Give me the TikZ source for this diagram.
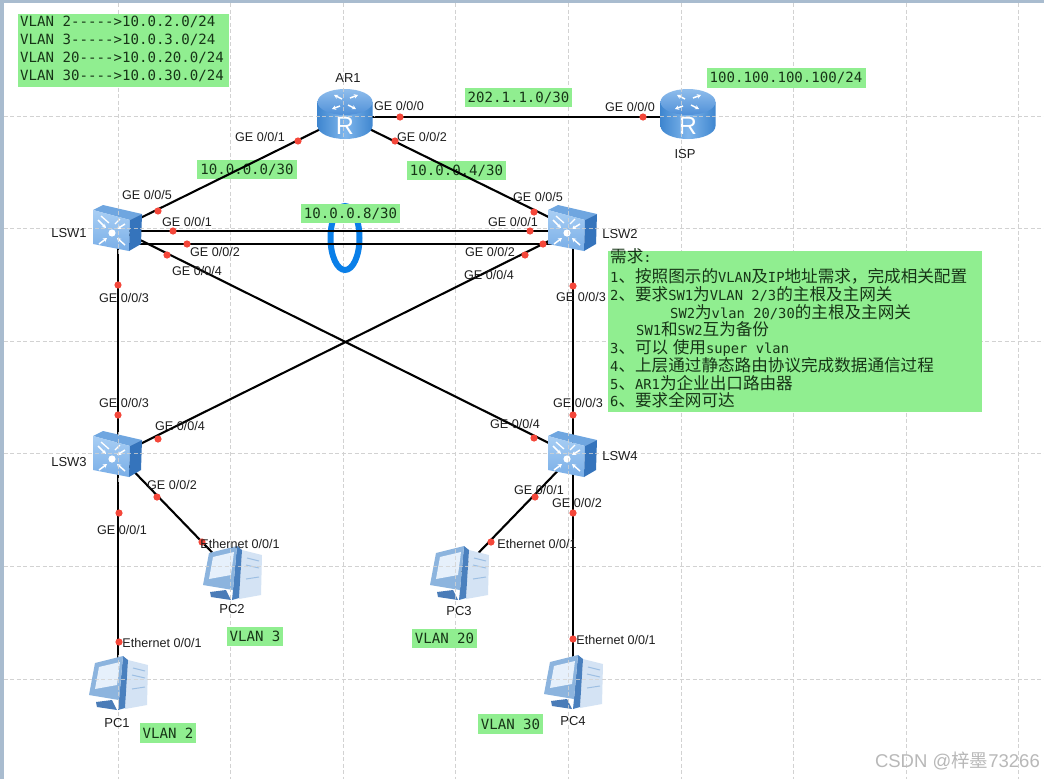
\documentclass[tikz,border=0pt]{standalone}
\usepackage{fontspec}
\setmainfont{Liberation Sans}
\newfontfamily\monof{DejaVu Sans Mono}
\newfontfamily\cjk{Noto Sans CJK SC}
\usetikzlibrary{arrows.meta}
\definecolor{gbox}{HTML}{90EE90}
\definecolor{gtxt}{HTML}{173517}
\definecolor{gridc}{HTML}{D2D2D2}
\definecolor{bezel}{HTML}{A9BCCF}
\definecolor{dotc}{HTML}{F4473A}
\definecolor{loopc}{HTML}{0A7FE8}
\definecolor{labc}{HTML}{1E1E1E}
\definecolor{rbodye}{HTML}{3F86CF}
\definecolor{rbodym}{HTML}{7FB6EC}
\definecolor{rtopa}{HTML}{8FBDEC}
\definecolor{rtopb}{HTML}{4F90D8}
\definecolor{stop}{HTML}{6FA6E0}
\definecolor{sfronta}{HTML}{A8CEF4}
\definecolor{sfrontb}{HTML}{79AEE7}
\definecolor{sright}{HTML}{3574BC}
\definecolor{pcframe}{HTML}{8CB4DE}
\definecolor{pcside}{HTML}{4A80BE}
\definecolor{pctower}{HTML}{D4E3F4}
\definecolor{pcbase}{HTML}{4A7CB8}
\definecolor{pcscreen}{HTML}{E6F0FB}
\definecolor{pcbar}{HTML}{9DBFE3}
\newcommand{\C}[1]{{\fontsize{16.6}{18}\cjk #1}}
\tikzset{
  x=1pt,y=-1pt,
  gridl/.style={gridc,line width=0.9pt,dash pattern=on 4pt off 2.5pt},
  link/.style={black,line width=2.1pt},
  dev/.style={inner sep=0pt,minimum size=0pt},
  gb/.style={fill=gbox,inner sep=0pt,text=gtxt,font=\monof\fontsize{14.1}{16}\selectfont},
  portdot/.style={circle,fill=dotc,inner sep=0pt,minimum size=7.2pt},
  portlab/.style={inner sep=0pt,text=labc,font=\fontsize{12.6}{14}\selectfont},
  devlab/.style={inner sep=0pt,text=labc,font=\fontsize{13}{15}\selectfont},
  reqline/.style={anchor=base west,inner sep=0pt,text=gtxt,font=\monof\fontsize{13.8}{16}\selectfont},
  wa/.style={white,line width=1.5pt,-{Stealth[length=4pt,width=4.5pt]}},
  routericon/.pic={
    \path[left color=rbodye,right color=rbodye,middle color=rbodym]
      (-27.5,-15) -- (-27.5,9) arc[start angle=180,end angle=0,x radius=27.5,y radius=13] -- (27.5,-15) -- cycle;
    \path[top color=rtopa,bottom color=rtopb] (0,-15) ellipse[x radius=27.5,y radius=13];
    \draw[wa] (-3,-18) -- (-11,-22);
    \draw[wa] (3,-12) -- (11,-8);
    \draw[wa] (5,-19) -- (13,-22);
    \draw[wa] (-5,-11) -- (-13,-8);
    \node[inner sep=0pt,text=white,font=\fontsize{25}{25}\selectfont] (-R) at (0,9) {R};
  },
  switchicon/.pic={
    \fill[stop] (-25,-19) -- (-15,-24) -- (24,-15) -- (12,-9) -- cycle;
    \path[top color=sfronta,bottom color=sfrontb] (-25,-19) -- (12,-9) -- (11,22) -- (-25,15) -- cycle;
    \fill[sright] (12,-9) -- (24,-15) -- (23,15) -- (11,22) -- cycle;
    \fill[white] (-6,4) circle[radius=3.6];
    \draw[wa] (-20,-9) -- (-12,-1);
    \draw[wa] (7,-5) -- (-1,0);
    \draw[wa] (-19,15) -- (-11,9);
    \draw[wa] (7,16) -- (-1,9);
    \draw[white,line width=1.3pt] (-17,-13) -- (-9,-6);
    \draw[white,line width=1.3pt] (2,-10) -- (-3,-5);
  },
  pcicon/.pic={
    \fill[pctower] (10,-23) -- (30,-18) -- (29,22) -- (7,26) -- cycle;
    \fill[pcside] (5,-27) -- (10,-23) -- (7,25) -- (0,27) -- (1,17) -- cycle;
    \fill[pcbase] (-22,19) -- (-6,17) -- (-1,27) -- (-21,24) -- cycle;
    \fill[pcframe] (-29,12) -- (-23,-20) -- (5,-27) -- (1,17) -- cycle;
    \fill[pcscreen] (-23,6) -- (-19,-16) -- (2,-21) -- (-1,2) -- cycle;
    \draw[pcbar,line width=1pt] (15,-15) -- (27,-12) (14,-8) -- (27,-5) (14,6) -- (27,4);
  },
}
\begin{document}
\begin{tikzpicture}
\useasboundingbox (0,0) rectangle (1044,779);
\fill[white] (0,0) rectangle (1044,779);
\fill[bezel] (0,0) rectangle (1044,3);
\fill[bezel] (0,0) rectangle (3.5,779);
% grid
\foreach \gx in {118,230.6,343.2,455.8,568.4,681,793.6,906.2,1018.8} \draw[gridl] (\gx,3) -- (\gx,779);
\foreach \gy in {116,228.6,341.2,453.8,566.4,679} \draw[gridl] (3.5,\gy) -- (1044,\gy);
% trunk loop
\draw[loopc,line width=6pt] (345,238) ellipse[x radius=14.5,y radius=32];
% device anchors
\node[dev] (AR1) at (345,117) {};
\node[dev] (ISP) at (688,117) {};
\node[dev] (LSW1) at (118,229) {};
\node[dev] (LSW2) at (573,229) {};
\node[dev] (LSW3) at (118,455) {};
\node[dev] (LSW4) at (573,455) {};
\node[dev] (PC1) at (118,683) {};
\node[dev] (PC2) at (232,573) {};
\node[dev] (PC3) at (459,573) {};
\node[dev] (PC4) at (573,682) {};
% green labels
\node[gb,minimum width=211pt,minimum height=73pt] (vlanbox) at (123.5,50.5) {};
\node[gb,fill=none,anchor=west] (vl1) at (20,22) {VLAN 2{-}{-}{-}{-}{-}>10.0.2.0/24};
\node[gb,fill=none,anchor=west] (vl2) at (20,40) {VLAN 3{-}{-}{-}{-}{-}>10.0.3.0/24};
\node[gb,fill=none,anchor=west] (vl3) at (20,58) {VLAN 20{-}{-}{-}{-}>10.0.20.0/24};
\node[gb,fill=none,anchor=west] (vl4) at (20,76) {VLAN 30{-}{-}{-}{-}>10.0.30.0/24};
\node[gb,minimum width=100pt,minimum height=19pt] (n1) at (247,169.5) {10.0.0.0/30};
\node[gb,minimum width=99pt,minimum height=19pt] (n2) at (456.5,170.5) {10.0.0.4/30};
\node[gb,minimum width=99pt,minimum height=19pt] (n3) at (350.5,213.5) {10.0.0.8/30};
\node[gb,minimum width=107pt,minimum height=19pt] (n4) at (518.5,97.5) {202.1.1.0/30};
\node[gb,minimum width=159pt,minimum height=20pt] (n5) at (786,78) {100.100.100.100/24};
\node[gb,minimum width=56pt,minimum height=19.5pt] (v3) at (255,636.5) {VLAN 3};
\node[gb,minimum width=56pt,minimum height=19.5pt] (v2) at (168,733) {VLAN 2};
\node[gb,minimum width=65pt,minimum height=19.5pt] (v20) at (444.5,638.5) {VLAN 20};
\node[gb,minimum width=65pt,minimum height=19.5pt] (v30) at (510.5,724) {VLAN 30};
% requirements
\node[fill=gbox,inner sep=0pt,minimum width=374pt,minimum height=161pt] (req) at (795,331.5) {};
\node[reqline] (r0) at (610,262) {\C{需求}:};
\node[reqline] (r1) at (610,282) {1\C{、按照图示的}VLAN\C{及}IP\C{地址需求，完成相关配置}};
\node[reqline] (r2) at (610,300) {2\C{、要求}SW1\C{为}VLAN 2/3\C{的主根及主网关}};
\node[reqline] (r3) at (670,318) {SW2\C{为}vlan 20/30\C{的主根及主网关}};
\node[reqline] (r4) at (636,335) {SW1\C{和}SW2\C{互为备份}};
\node[reqline] (r5) at (610,353) {3\C{、可以}\hspace{4.5pt}\C{使用}super vlan};
\node[reqline] (r6) at (610,371) {4\C{、上层通过静态路由协议完成数据通信过程}};
\node[reqline] (r7) at (610,389) {5\C{、}AR1\C{为企业出口路由器}};
\node[reqline] (r8) at (610,406) {6\C{、要求全网可达}};
% links
\draw[link] (AR1) -- (ISP);
\draw[link] (AR1) -- (LSW1);
\draw[link] (AR1) -- (LSW2);
\draw[link] ([yshift=-2pt]LSW1.center) -- ([yshift=-2pt]LSW2.center);
\draw[link] ([yshift=-15pt]LSW1.center) -- ([yshift=-15pt]LSW2.center);
\draw[link] (LSW1) -- (LSW3);
\draw[link] (LSW2) -- (LSW4);
\draw[link] (LSW1) -- (LSW4);
\draw[link] (LSW2) -- (LSW3);
\draw[link] (LSW3) -- (PC1);
\draw[link] (LSW3) -- (PC2);
\draw[link] (LSW4) -- (PC3);
\draw[link] (LSW4) -- (PC4);
% icons
\pic at (AR1) {routericon};
\pic at (ISP) {routericon};
\pic at (LSW1) {switchicon};
\pic at (LSW2) {switchicon};
\pic at (LSW3) {switchicon};
\pic at (LSW4) {switchicon};
\pic at (PC1) {pcicon};
\pic at (PC2) {pcicon};
\pic at (PC3) {pcicon};
\pic at (PC4) {pcicon};
% grid seen over the icons
\begin{scope}
\clip (90,203) rectangle (146,256) (540,203) rectangle (600,256) (90,430) rectangle (146,484) (540,430) rectangle (600,484)
      (86,655) rectangle (150,712) (200,545) rectangle (264,602) (428,545) rectangle (492,602) (541,654) rectangle (605,712)
      (316,87) rectangle (375,141) (658,87) rectangle (718,141);
\foreach \gx in {118,230.6,343.2,455.8,568.4,681} \draw[gridl,opacity=.8] (\gx,3) -- (\gx,779);
\foreach \gy in {116,228.6,453.8,566.4,679} \draw[gridl,opacity=.8] (3.5,\gy) -- (1044,\gy);
\end{scope}
% port dots and labels
\foreach \dx/\dy/\lx/\ly/\ltext [count=\i] in {
  298/141/260/137/{GE 0/0/1}, 400/117/399/106/{GE 0/0/0}, 395/141/422/137/{GE 0/0/2}, 643/117/630/107/{GE 0/0/0},
  158/211/147/195/{GE 0/0/5}, 173/231/187/222/{GE 0/0/1}, 187/244/215/252/{GE 0/0/2}, 167/255/197/271/{GE 0/0/4},
  118/285/124/298/{GE 0/0/3}, 534/212/538/197/{GE 0/0/5}, 530/231/513/222/{GE 0/0/1}, 543/244/490/252/{GE 0/0/2},
  525/255/489/275/{GE 0/0/4}, 573/286/581/297/{GE 0/0/3}, 118/415/124/403/{GE 0/0/3}, 573/415/578/403/{GE 0/0/3},
  158/439/180/426/{GE 0/0/4}, 157/497/172/485/{GE 0/0/2}, 119/513/122/530/{GE 0/0/1}, 534/438/515/424/{GE 0/0/4},
  535/497/539/490/{GE 0/0/1}, 573/513/577/503/{GE 0/0/2}, 202/542/240/544/{Ethernet 0/0/1}, 119/642/162/643/{Ethernet 0/0/1},
  491/542/537/544/{Ethernet 0/0/1}, 573/639/616/640/{Ethernet 0/0/1}}{
  \node[portdot] (d\i) at (\dx,\dy) {};
  \node[portlab] (l\i) at (\lx,\ly) {\ltext};
}
% device labels
\node[devlab] (tAR1) at (348,78) {AR1};
\node[devlab] (tISP) at (685,154) {ISP};
\node[devlab] (tLSW1) at (69,233) {LSW1};
\node[devlab] (tLSW2) at (620,234) {LSW2};
\node[devlab] (tLSW3) at (69,462) {LSW3};
\node[devlab] (tLSW4) at (620,456) {LSW4};
\node[devlab] (tPC1) at (117,723) {PC1};
\node[devlab] (tPC2) at (232,609) {PC2};
\node[devlab] (tPC3) at (459,611) {PC3};
\node[devlab] (tPC4) at (573,721) {PC4};
% watermark
\node[inner sep=0pt,text=black!28,anchor=east,font=\fontsize{18.5}{20}\selectfont] (wm) at (1040,761) {CSDN @{\cjk 梓墨}73266};
\end{tikzpicture}
\end{document}
